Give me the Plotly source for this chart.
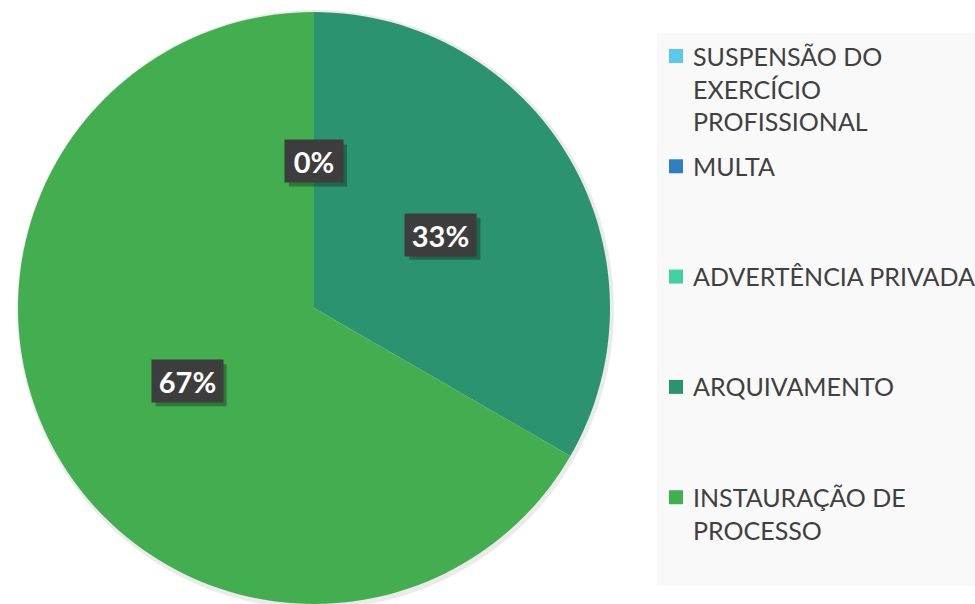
import math
import plotly.graph_objects as go

# ---- data ----
categories = ["SUSPENSÃO DO EXERCÍCIO PROFISSIONAL", "MULTA", "ADVERTÊNCIA PRIVADA",
              "ARQUIVAMENTO", "INSTAURAÇÃO DE PROCESSO"]
legend_labels = ["SUSPENSÃO DO<br>EXERCÍCIO<br>PROFISSIONAL", "MULTA", "ADVERTÊNCIA PRIVADA",
                 "ARQUIVAMENTO", "INSTAURAÇÃO DE<br>PROCESSO"]
values = [0, 0, 0, 1, 2]
colors = ["#5BC8EE", "#2E7FC1", "#40D1A2", "#2B9370", "#42AE4F"]

W, H = 975, 604
# pie domain in pixels
dx0, dx1, dy0, dy1 = 16, 612, 12, 604
cx = (dx0 + dx1) / 2
cy = (dy0 + dy1) / 2
R = min(dx1 - dx0, dy1 - dy0) / 2

fig = go.Figure(go.Pie(
    labels=categories, values=values, sort=False, direction="clockwise", rotation=0,
    marker=dict(colors=colors, line=dict(width=0)),
    textinfo="none", showlegend=False, hoverinfo="label+percent",
    domain=dict(x=[dx0 / W, dx1 / W], y=[1 - dy1 / H, 1 - dy0 / H]),
))

shapes = []
annotations = []

# pie shadow
shapes.append(dict(type="circle", xref="paper", yref="paper", layer="below",
                   x0=(cx - R - 1) / W, x1=(cx + R + 4) / W,
                   y0=1 - (cy + R + 5) / H, y1=1 - (cy - R - 2) / H,
                   fillcolor="rgba(0,0,0,0.08)", line=dict(width=0)))

# data labels
total = sum(values)
cum = 0
seen = set()
for v in values:
    mid = (cum + v / 2) / total * 2 * math.pi
    cum += v
    r = 0.495 * R
    px = cx + r * math.sin(mid)
    py = cy - r * math.cos(mid)
    key = (round(px), round(py))
    if key in seen:
        continue
    seen.add(key)
    txt = f"{round(100 * v / total)}%"
    bw = 32 + 13 * len(txt)
    bh = 42
    # box shadow
    shapes.append(dict(type="rect", xref="paper", yref="paper", layer="above",
                       x0=(px - bw / 2 + 4) / W, x1=(px + bw / 2 + 4) / W,
                       y0=1 - (py + bh / 2 + 4) / H, y1=1 - (py - bh / 2 + 4) / H,
                       fillcolor="rgba(0,0,0,0.30)", line=dict(width=0)))
    annotations.append(dict(x=px / W, y=1 - py / H, xref="paper", yref="paper",
                            xanchor="center", yanchor="middle",
                            text=f"<b>{txt}</b>", showarrow=False,
                            width=bw - 4, height=bh - 4, borderpad=2,
                            font=dict(family="Lato", size=29, color="white"),
                            bgcolor="#3D3D3D"))

# legend box
shapes.append(dict(type="rect", xref="paper", yref="paper", layer="below",
                   x0=657 / W, x1=1.0, y0=1 - 586 / H, y1=1 - 33 / H,
                   fillcolor="#F9F9F9", line=dict(width=0)))

first_line_y = 56
slot = 110.3
for i, (lab, col) in enumerate(zip(legend_labels, colors)):
    yc = first_line_y + i * slot
    shapes.append(dict(type="rect", xref="paper", yref="paper",
                       x0=669 / W, x1=683 / W, y0=1 - (yc + 7) / H, y1=1 - (yc - 7) / H,
                       fillcolor=col, line=dict(width=0)))
    annotations.append(dict(x=692 / W, y=1 - (yc - 16.5) / H, xref="paper", yref="paper",
                            xanchor="left", yanchor="top", align="left", text=lab,
                            showarrow=False, borderpad=0,
                            font=dict(family="Lato", size=25, color="#404040")))

fig.update_layout(width=W, height=H, margin=dict(l=0, r=0, t=0, b=0),
                  paper_bgcolor="white", plot_bgcolor="white",
                  shapes=shapes, annotations=annotations, showlegend=False)

fig.write_html("out.html", config={"displayModeBar": False},
               post_script="document.body.style.margin='0';document.body.style.overflow='hidden';")
